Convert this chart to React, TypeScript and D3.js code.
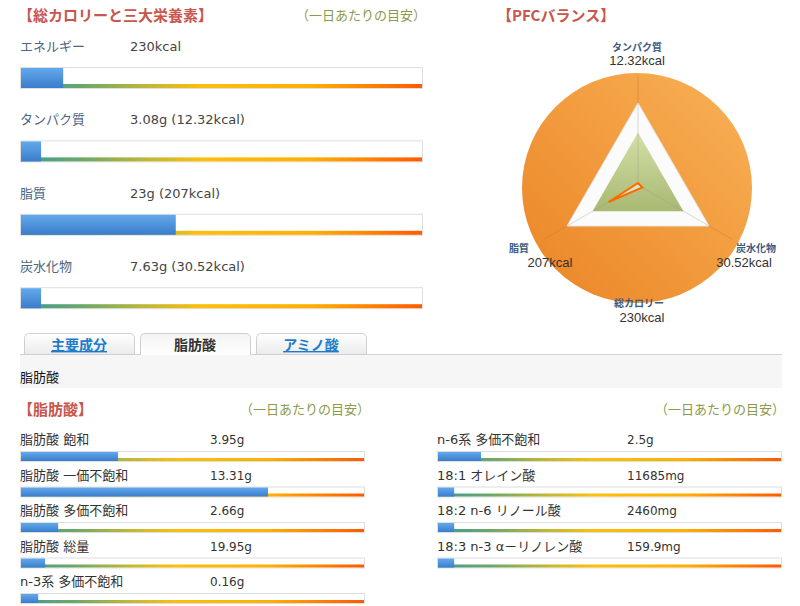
import React from 'react';
import * as d3 from 'd3';

const macroLabels = ['エネルギー', 'タンパク質', '脂質', '炭水化物'];
const macroValues = ['230kcal', '3.08g (12.32kcal)', '23g (207kcal)', '7.63g (30.52kcal)'];
const macroPercent = [10.5, 5, 38.5, 5];

const fattyLeftLabels = ['脂肪酸 飽和', '脂肪酸 一価不飽和', '脂肪酸 多価不飽和', '脂肪酸 総量', 'n-3系 多価不飽和'];
const fattyLeftValues = ['3.95g', '13.31g', '2.66g', '19.95g', '0.16g'];
const fattyLeftPercent = [28.2, 71.8, 10.8, 7, 5];

const fattyRightLabels = ['n-6系 多価不飽和', '18:1 オレイン酸', '18:2 n-6 リノール酸', '18:3 n-3 α－リノレン酸'];
const fattyRightValues = ['2.5g', '11685mg', '2460mg', '159.9mg'];
const fattyRightPercent = [12.5, 4.7, 4.7, 4.7];

const pfcAxes = ['タンパク質', '炭水化物', '脂質'];
const pfcAngles = [-90, 30, 150];
const pfcValues = [12.32, 30.52, 207];
const pfcValueLabels = ['12.32kcal', '30.52kcal', '207kcal'];
const totalLabel = '総カロリー';
const totalValueLabel = '230kcal';
const radarMax = 500;
const radarTarget = 320;

const tabLabels = ['主要成分', '脂肪酸', 'アミノ酸'];
const activeTab = 1;

const FONT = "'DejaVu Sans', 'Noto Sans CJK JP', sans-serif";
const JP = "'Noto Sans CJK JP', 'DejaVu Sans', sans-serif";
const ARIAL = "'Liberation Sans', 'Noto Sans CJK JP', sans-serif";

function Bar({ x, y, w, h, pct, line }: { x: number; y: number; w: number; h: number; pct: number; line: number }) {
  const sx = d3.scaleLinear().domain([0, 100]).range([0, w]);
  return (
    <g>
      <rect x={x + 0.5} y={y + 0.5} width={w} height={h} fill="#fff" stroke="#dedede" />
      <rect x={x + 1} y={y + h - line} width={w - 1} height={line} fill="url(#rainbow)" />
      <rect x={x + 1} y={y + 1} width={sx(pct)} height={h - 1} fill="url(#blue)" />
    </g>
  );
}

function Radar() {
  const cx = 638;
  const cy = 185;
  const r = d3.scaleLinear().domain([0, radarMax]).range([0, 82]);
  const pt = (ang: number, v: number): [number, number] => {
    const a = (ang * Math.PI) / 180;
    return [cx + Math.cos(a) * r(v), cy + Math.sin(a) * r(v)];
  };
  const line = d3.line().curve(d3.curveLinearClosed);
  const outer = line(pfcAngles.map((a) => pt(a, radarMax)));
  const target = line(pfcAngles.map((a) => pt(a, radarTarget)));
  const data = line(pfcAngles.map((a, i) => pt(a, pfcValues[i])));
  const labelPos = [
    { x: 637, y1: 51, y2: 65 },
    { x: 756, y1: 252, y2: 267, x2: 744 },
    { x: 519, y1: 252, y2: 267, x2: 550 },
  ];
  return (
    <g>
      <circle cx={637} cy={188} r={115} fill="url(#orange)" />
      {pfcAngles.map((a, i) => {
        const [x2, y2] = pt(a, radarMax * 1.33);
        return <line key={i} x1={cx} y1={cy} x2={x2} y2={y2} stroke="#c87a30" strokeOpacity={0.45} strokeWidth={1} />;
      })}
      <path d={outer ?? ''} fill="#fbfbfb" stroke="#e6e6e6" />
      <path d={target ?? ''} fill="url(#green)" />
      {pfcAngles.map((a, i) => {
        const [x2, y2] = pt(a, radarMax);
        return <line key={'g' + i} x1={cx} y1={cy} x2={x2} y2={y2} stroke="#999" strokeOpacity={0.35} strokeWidth={1} />;
      })}
      <path d={data ?? ''} fill="rgba(255,255,255,0.55)" stroke="#ff6a00" strokeWidth={2} strokeLinejoin="miter" />
      {pfcAxes.map((lab, i) => (
        <g key={lab}>
          <text x={labelPos[i].x} y={labelPos[i].y1} textAnchor="middle" fontFamily={JP} fontSize={10} fontWeight={700} fill="#3e5a80">{lab}</text>
          <text x={labelPos[i].x2 ?? labelPos[i].x} y={labelPos[i].y2} textAnchor="middle" fontFamily={ARIAL} fontSize={13} fill="#333">{pfcValueLabels[i]}</text>
        </g>
      ))}
      <text x={639} y={307} textAnchor="middle" fontFamily={JP} fontSize={10} fontWeight={700} fill="#3e5a80">{totalLabel}</text>
      <text x={642} y={322} textAnchor="middle" fontFamily={ARIAL} fontSize={13} fill="#333">{totalValueLabel}</text>
    </g>
  );
}

function tabPath(x: number, y: number, w: number, h: number, rr: number) {
  return `M${x},${y + h} L${x},${y + rr} Q${x},${y} ${x + rr},${y} L${x + w - rr},${y} Q${x + w},${y} ${x + w},${y + rr} L${x + w},${y + h}`;
}

export default function App() {
  const macroRow = d3.scaleLinear().domain([0, 1]).range([0, 73.4]);
  const fattyRow = d3.scaleLinear().domain([0, 1]).range([0, 35.5]);
  const tabX = [24, 140, 256];
  return (
    <svg width={800} height={606} style={{ position: 'absolute', left: 0, top: 0, background: '#fff' }}>
      <defs>
        <linearGradient id="rainbow" x1="0" x2="1" y1="0" y2="0">
          <stop offset="0" stopColor="#3f9a9a" />
          <stop offset="0.15" stopColor="#6aa868" />
          <stop offset="0.32" stopColor="#c2b834" />
          <stop offset="0.45" stopColor="#fbbf0a" />
          <stop offset="0.72" stopColor="#ffb000" />
          <stop offset="1" stopColor="#ff5a00" />
        </linearGradient>
        <linearGradient id="blue" x1="0" x2="0" y1="0" y2="1">
          <stop offset="0" stopColor="#62a9ec" />
          <stop offset="1" stopColor="#3a7dcb" />
        </linearGradient>
        <linearGradient id="orange" x1="1" x2="0" y1="0" y2="1">
          <stop offset="0" stopColor="#f9b257" />
          <stop offset="1" stopColor="#ea8425" />
        </linearGradient>
        <linearGradient id="green" x1="0" x2="0" y1="0" y2="1">
          <stop offset="0" stopColor="#d3dfa7" />
          <stop offset="1" stopColor="#a8b972" />
        </linearGradient>
        <linearGradient id="tab" x1="0" x2="0" y1="0" y2="1">
          <stop offset="0" stopColor="#ffffff" />
          <stop offset="1" stopColor="#ebebeb" />
        </linearGradient>
        <linearGradient id="tabActive" x1="0" x2="0" y1="0" y2="1">
          <stop offset="0" stopColor="#f4f4f4" />
          <stop offset="1" stopColor="#ffffff" />
        </linearGradient>
      </defs>

      {/* Top-left section */}
      <text x={18} y={21} fontFamily={JP} fontSize={15} fontWeight={700} fill="#c8564d">【総カロリーと三大栄養素】</text>
      <text x={296} y={20} fontFamily={JP} fontSize={13} fill="#8c9a4c">（一日あたりの目安）</text>
      {macroLabels.map((lab, i) => {
        const dy = macroRow(i);
        return (
          <g key={lab}>
            <text x={20} y={51 + dy} fontFamily={JP} fontSize={13} fill="#4d6582">{lab}</text>
            <text x={130} y={51 + dy} fontFamily={FONT} fontSize={13} fill="#444">{macroValues[i]}</text>
            <Bar x={20} y={67 + dy} w={402} h={21} pct={macroPercent[i]} line={4} />
          </g>
        );
      })}

      {/* Radar */}
      <text x={497} y={21} fontFamily={JP} fontSize={15} fontWeight={700} fill="#c8564d">【PFCバランス】</text>
      <Radar />

      {/* Tabs */}
      <line x1={20} y1={354.5} x2={782} y2={354.5} stroke="#d4d4d4" />
      {tabLabels.map((t, i) => (
        <g key={t}>
          <path d={tabPath(tabX[i] + 0.5, 333.5, 110, i === activeTab ? 21.5 : 21, 5) + (i === activeTab ? '' : ' Z')}
            fill={i === activeTab ? 'url(#tabActive)' : 'url(#tab)'} stroke="#cfcfcf" />
          <text x={tabX[i] + 55} y={350} textAnchor="middle" fontFamily={JP} fontSize={14} fontWeight={700}
            fill={i === activeTab ? '#333' : '#1d7cc9'} textDecoration={i === activeTab ? 'none' : 'underline'}>{t}</text>
        </g>
      ))}
      <rect x={20} y={355} width={762} height={33} fill="#f6f6f6" />
      <text x={20} y={382} fontFamily={JP} fontSize={13} fill="#111">脂肪酸</text>

      {/* Fatty acids */}
      <text x={18} y={415} fontFamily={JP} fontSize={15} fontWeight={700} fill="#c8564d">【脂肪酸】</text>
      <text x={240} y={414} fontFamily={JP} fontSize={13} fill="#8c9a4c">（一日あたりの目安）</text>
      <text x={655} y={414} fontFamily={JP} fontSize={13} fill="#8c9a4c">（一日あたりの目安）</text>
      {fattyLeftLabels.map((lab, i) => {
        const dy = fattyRow(i);
        return (
          <g key={lab}>
            <text x={20} y={444 + dy} fontFamily={FONT} fontSize={13} fill="#333">{lab}</text>
            <text x={210} y={444 + dy} fontFamily={FONT} fontSize={12} fill="#333">{fattyLeftValues[i]}</text>
            <Bar x={20} y={451 + dy} w={344} h={10} pct={fattyLeftPercent[i]} line={3} />
          </g>
        );
      })}
      {fattyRightLabels.map((lab, i) => {
        const dy = fattyRow(i);
        return (
          <g key={lab}>
            <text x={437} y={444 + dy} fontFamily={FONT} fontSize={13} fill="#333">{lab}</text>
            <text x={627} y={444 + dy} fontFamily={FONT} fontSize={12} fill="#333">{fattyRightValues[i]}</text>
            <Bar x={437} y={451 + dy} w={344} h={10} pct={fattyRightPercent[i]} line={3} />
          </g>
        );
      })}
    </svg>
  );
}
